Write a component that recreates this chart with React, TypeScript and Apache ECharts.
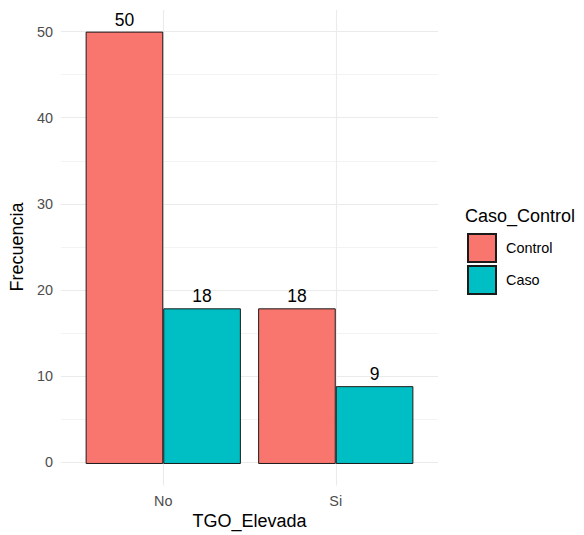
import React, { useEffect, useRef } from "react";
import * as echarts from "echarts";

const categories = ["No", "Si"];
const seriesNames = ["Control", "Caso"];
const controlValues = [50, 18];
const casoValues = [18, 9];
const majorBreaks = [0, 10, 20, 30, 40, 50];
const minorBreaks = [5, 15, 25, 35, 45];

const FONT = "'Liberation Sans', Arial, sans-serif";

export default function App() {
  const ref = useRef<HTMLDivElement>(null);
  useEffect(() => {
    if (!ref.current) return;
    const chart = echarts.init(ref.current, undefined, { renderer: "svg" });
    const barStyle = (color: string) => ({
      color,
      borderColor: "#1a1a1a",
      borderWidth: 1,
    });
    const labelStyle = {
      show: true,
      position: "top" as const,
      distance: 3,
      color: "#000",
      fontSize: 17.5,
      fontFamily: FONT,
    };
    chart.setOption({
      animation: false,
      backgroundColor: "#fff",
      textStyle: { fontFamily: FONT },
      title: {
        text: "Caso_Control",
        left: 465,
        top: 207,
        padding: 0,
        textStyle: { fontSize: 18, fontWeight: "normal", color: "#000", fontFamily: FONT },
      },
      legend: {
        data: seriesNames,
        orient: "vertical",
        left: 467,
        top: 233,
        itemWidth: 28,
        itemHeight: 28,
        itemGap: 2,
        padding: 0,
        icon: "rect",
        selectedMode: false,
        textStyle: { fontSize: 14.4, color: "#000", fontFamily: FONT, padding: [0, 0, 0, 5] },
      },
      grid: [
        { left: 77, right: 162, top: 10, bottom: 49.4 },
        { left: 58, right: 146, top: 10, bottom: 49.4 },
      ],
      xAxis: [
        {
          type: "category",
          gridIndex: 0,
          data: categories,
          axisLine: { show: false },
          axisTick: { show: false },
          splitLine: { show: false },
          axisLabel: { color: "#4D4D4D", fontSize: 14.4, margin: 8, fontFamily: FONT },
        },
        {
          type: "value",
          gridIndex: 1,
          min: 0,
          max: 1,
          axisLine: { show: false },
          axisTick: { show: false },
          splitLine: { show: false },
          axisLabel: { show: false },
          name: "TGO_Elevada",
          nameLocation: "middle",
          nameGap: 28,
          nameTextStyle: { fontSize: 18, color: "#000", fontFamily: FONT },
        },
      ],
      yAxis: [
        {
          type: "value",
          gridIndex: 0,
          min: -2.5,
          max: 52.5,
          show: false,
          splitLine: { show: false },
        },
        {
          type: "value",
          gridIndex: 1,
          min: -2.5,
          max: 52.5,
          interval: 2.5,
          axisLine: { show: false },
          axisTick: { show: false },
          splitLine: { show: false },
          axisLabel: {
            color: "#4D4D4D",
            fontSize: 14.4,
            margin: 8,
            fontFamily: FONT,
            formatter: (v: number) => (majorBreaks.indexOf(v) >= 0 ? String(v) : ""),
          },
          name: "Frecuencia",
          nameLocation: "middle",
          nameGap: 30,
          nameRotate: 90,
          nameTextStyle: { fontSize: 18, color: "#000", fontFamily: FONT },
        },
      ],
      series: [
        {
          type: "line",
          xAxisIndex: 1,
          yAxisIndex: 1,
          data: [],
          z: 0,
          silent: true,
          markLine: {
            silent: true,
            z: 0,
            symbol: ["none", "none"],
            label: { show: false },
            animation: false,
            data: [
              ...minorBreaks.map((v) => ({ yAxis: v, lineStyle: { color: "#F0F0F0", width: 0.8, type: "solid" } })),
              ...majorBreaks.map((v) => ({ yAxis: v, lineStyle: { color: "#EBEBEB", width: 1.1, type: "solid" } })),
            ],
          },
        },
        {
          type: "line",
          xAxisIndex: 0,
          yAxisIndex: 0,
          data: [],
          z: 0,
          silent: true,
          markLine: {
            silent: true,
            z: 0,
            symbol: ["none", "none"],
            label: { show: false },
            animation: false,
            data: categories.map((c) => ({ xAxis: c, lineStyle: { color: "#EBEBEB", width: 1.1, type: "solid" } })),
          },
        },
        {
          name: seriesNames[0],
          type: "bar",
          xAxisIndex: 0,
          yAxisIndex: 0,
          data: controlValues,
          barGap: "0%",
          barCategoryGap: "10%",
          itemStyle: barStyle("#F8766D"),
          label: labelStyle,
          z: 2,
        },
        {
          name: seriesNames[1],
          type: "bar",
          xAxisIndex: 0,
          yAxisIndex: 0,
          data: casoValues,
          barGap: "0%",
          barCategoryGap: "10%",
          itemStyle: barStyle("#00BFC4"),
          label: labelStyle,
          z: 2,
        },
      ],
    });
    return () => chart.dispose();
  }, []);
  return <div ref={ref} style={{ width: 584, height: 535, position: "absolute", left: 0, top: 0 }} />;
}
